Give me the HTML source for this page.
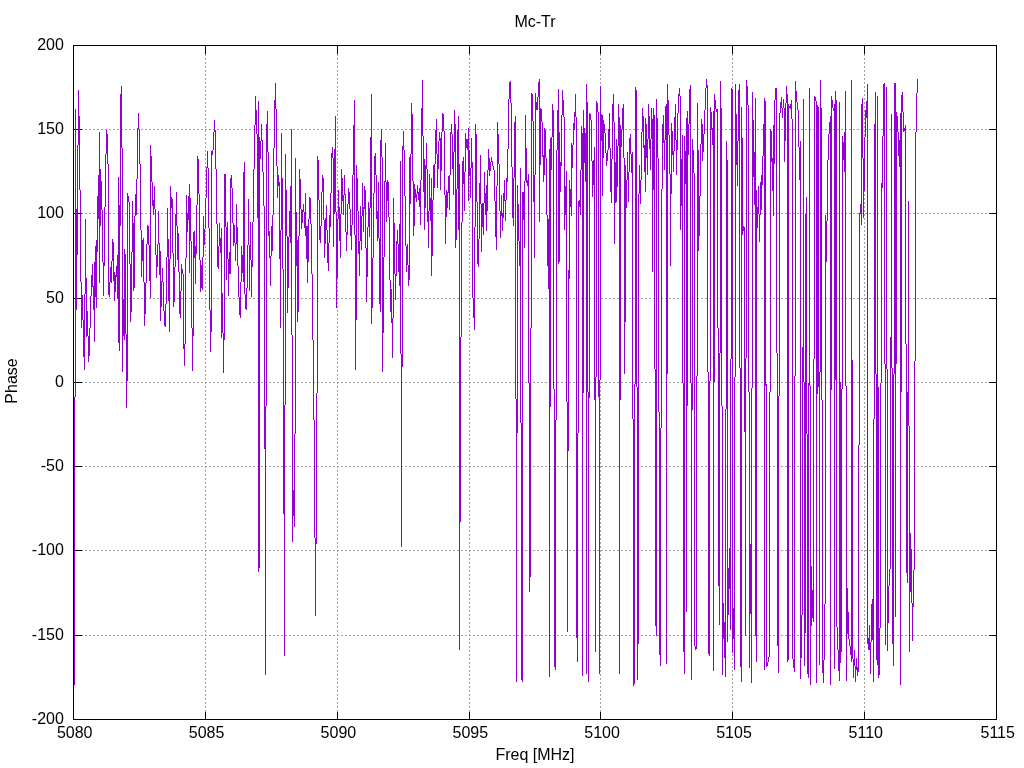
<!DOCTYPE html>
<html><head><meta charset="utf-8"><title>Mc-Tr</title>
<style>
html,body{margin:0;padding:0;background:#fff;}
body{width:1024px;height:768px;overflow:hidden;}
svg{display:block;}
svg{will-change:transform;}
text{font-family:"Liberation Sans",sans-serif;font-size:16px;fill:#000;}
</style></head><body>
<svg width="1024" height="768" viewBox="0 0 1024 768">
<rect width="1024" height="768" fill="#fff"/>
<path d="M205.5 720.0V45.5M337.5 720.0V45.5M469.5 720.0V45.5M600.5 720.0V45.5M732.5 720.0V45.5M864.5 720.0V45.5M73.0 129.5H996.5M73.0 213.5H996.5M73.0 298.5H996.5M73.0 382.5H996.5M73.0 466.5H996.5M73.0 550.5H996.5M73.0 635.5H996.5" stroke="#a0a0a0" stroke-width="1" stroke-dasharray="2 2" fill="none" shape-rendering="crispEdges"/>
<path d="M73.5 719.5v-8M73.5 45.5v8M205.5 719.5v-8M205.5 45.5v8M337.5 719.5v-8M337.5 45.5v8M469.5 719.5v-8M469.5 45.5v8M600.5 719.5v-8M600.5 45.5v8M732.5 719.5v-8M732.5 45.5v8M864.5 719.5v-8M864.5 45.5v8M996.5 719.5v-8M996.5 45.5v8M73.5 45.5h8M996.5 45.5h-8M73.5 129.5h8M996.5 129.5h-8M73.5 213.5h8M996.5 213.5h-8M73.5 298.5h8M996.5 298.5h-8M73.5 382.5h8M996.5 382.5h-8M73.5 466.5h8M996.5 466.5h-8M73.5 550.5h8M996.5 550.5h-8M73.5 635.5h8M996.5 635.5h-8M73.5 719.5h8M996.5 719.5h-8" stroke="#000" stroke-width="1" fill="none" shape-rendering="crispEdges"/>
<path d="M74.5 397V685M75.5 109V397M76.5 209V310M77.5 145V255M78.5 90V145M79.5 116V190M80.5 190V282M81.5 282V328M82.5 295V320M83.5 320V357M84.5 294V370M85.5 219V294M86.5 278V337M87.5 311V336M88.5 336V362M89.5 328V356M90.5 296V328M91.5 275V296M92.5 264V287M93.5 286V310M94.5 262V342M95.5 246V297M96.5 240V308M97.5 196V252M98.5 175V219M99.5 132V283M100.5 169V226M101.5 181V210M102.5 210V262M103.5 262V296M104.5 207V266M105.5 154V207M106.5 130V154M107.5 134V164M108.5 164V295M109.5 282V297M110.5 267V282M111.5 261V283M112.5 239V261M113.5 242V281M114.5 272V301M115.5 275V292M116.5 266V277M117.5 255V299M118.5 177V343M119.5 205V351M120.5 94V226M121.5 86V148M122.5 148V372M123.5 299V336M124.5 249V340M125.5 254V334M126.5 334V408M127.5 193V381M128.5 196V202M129.5 202V264M130.5 264V322M131.5 252V312M132.5 201V252M133.5 223V291M134.5 216V288M135.5 194V216M136.5 179V215M137.5 128V179M138.5 113V129M139.5 129V164M140.5 164V230M141.5 230V277M142.5 240V261M143.5 238V282M144.5 282V326M145.5 283V314M146.5 244V283M147.5 225V244M148.5 226V245M149.5 245V281M150.5 145V298M151.5 156V182M152.5 182V206M153.5 200V215M154.5 186V209M155.5 209V255M156.5 255V278M157.5 244V267M158.5 211V244M159.5 243V275M160.5 251V321M161.5 281V307M162.5 268V282M163.5 282V311M164.5 311V326M165.5 304V327M166.5 257V304M167.5 208V257M168.5 239V301M169.5 259V332M170.5 186V259M171.5 197V208M172.5 199V253M173.5 253V307M174.5 267V302M175.5 214V267M176.5 192V226M177.5 226V260M178.5 233V272M179.5 272V314M180.5 291V318M181.5 264V291M182.5 269V274M183.5 274V349M184.5 344V366M185.5 258V344M186.5 195V258M187.5 213V232M188.5 196V220M189.5 184V273M190.5 198V241M191.5 241V328M192.5 328V371M193.5 232V336M194.5 231V258M195.5 246V284M196.5 205V254M197.5 156V205M198.5 159V194M199.5 194V260M200.5 260V292M201.5 265V288M202.5 257V290M203.5 216V257M204.5 229V245M205.5 198V229M206.5 167V198M207.5 151V168M208.5 168V228M209.5 228V310M210.5 310V352M211.5 151V332M212.5 150V155M213.5 132V150M214.5 120V132M215.5 130V169M216.5 169V224M217.5 224V267M218.5 246V269M219.5 223V246M220.5 238V253M221.5 228V338M222.5 293V333M223.5 333V373M224.5 174V340M225.5 174V227M226.5 227V280M227.5 222V259M228.5 259V296M229.5 252V274M230.5 178V274M231.5 175V188M232.5 188V223M233.5 223V246M234.5 225V243M235.5 243V261M236.5 204V244M237.5 227V266M238.5 266V297M239.5 297V315M240.5 282V318M241.5 246V282M242.5 255V273M243.5 172V282M244.5 162V294M245.5 294V309M246.5 288V310M247.5 245V288M248.5 199V245M249.5 245V291M250.5 222V260M251.5 260V297M252.5 222V267M253.5 169V222M254.5 125V169M255.5 96V125M256.5 110V134M257.5 134V218M258.5 101V572M259.5 137V568M260.5 141V159M261.5 124V141M262.5 140V172M263.5 172V206M264.5 206V449M265.5 406V675M266.5 124V406M267.5 111V152M268.5 152V236M269.5 231V258M270.5 256V286M271.5 226V256M272.5 215V251M273.5 148V215M274.5 100V148M275.5 83V109M276.5 109V166M277.5 166V198M278.5 175V186M279.5 182V259M280.5 230V328M281.5 133V230M282.5 178V269M283.5 269V514M284.5 405V656M285.5 154V405M286.5 190V236M287.5 236V313M288.5 237V288M289.5 211V237M290.5 186V243M291.5 129V335M292.5 335V542M293.5 490V516M294.5 434V527M295.5 158V434M296.5 212V266M297.5 240V322M298.5 236V312M299.5 169V236M300.5 179V209M301.5 209V229M302.5 210V223M303.5 204V212M304.5 212V228M305.5 193V236M306.5 226V259M307.5 226V283M308.5 219V262M309.5 197V219M310.5 198V224M311.5 224V274M312.5 274V340M313.5 340V420M314.5 420V538M315.5 538V616M316.5 393V544M317.5 156V393M318.5 160V200M319.5 200V240M320.5 226V243M321.5 192V226M322.5 175V192M323.5 178V220M324.5 220V258M325.5 218V244M326.5 205V230M327.5 230V263M328.5 243V271M329.5 215V243M330.5 193V227M331.5 153V193M332.5 147V158M333.5 158V247M334.5 149V214M335.5 116V212M336.5 212V308M337.5 219V278M338.5 190V219M339.5 207V241M340.5 214V258M341.5 169V214M342.5 178V201M343.5 195V215M344.5 175V195M345.5 194V232M346.5 232V251M347.5 204V235M348.5 188V204M349.5 192V209M350.5 209V236M351.5 225V250M352.5 175V225M353.5 125V175M354.5 100V235M355.5 235V370M356.5 165V320M357.5 178V211M358.5 211V254M359.5 241V276M360.5 206V241M361.5 216V250M362.5 183V216M363.5 207V232M364.5 186V209M365.5 190V248M366.5 248V302M367.5 227V277M368.5 202V227M369.5 208V237M370.5 137V208M371.5 94V324M372.5 258V308M373.5 193V258M374.5 156V193M375.5 153V175M376.5 175V219M377.5 211V241M378.5 182V238M379.5 238V304M380.5 140V312M381.5 129V157M382.5 157V372M383.5 257V333M384.5 181V257M385.5 143V182M386.5 182V222M387.5 180V201M388.5 182V217M389.5 217V280M390.5 280V312M391.5 289V323M392.5 318V358M393.5 198V318M394.5 223V274M395.5 274V300M396.5 241V276M397.5 230V244M398.5 244V272M399.5 224V286M400.5 161V354M401.5 354V547M402.5 146V367M403.5 131V150M404.5 150V196M405.5 196V246M406.5 246V272M407.5 244V265M408.5 265V286M409.5 157V280M410.5 154V204M411.5 103V154M412.5 114V181M413.5 181V236M414.5 184V226M415.5 189V198M416.5 194V202M417.5 185V194M418.5 192V200M419.5 188V207M420.5 180V225M421.5 108V180M422.5 80V136M423.5 136V192M424.5 159V230M425.5 165V208M426.5 143V169M427.5 169V222M428.5 211V248M429.5 174V211M430.5 198V221M431.5 178V276M432.5 200V256M433.5 165V200M434.5 164V188M435.5 130V164M436.5 119V154M437.5 154V188M438.5 141V169M439.5 132V141M440.5 138V190M441.5 132V171M442.5 113V132M443.5 114V131M444.5 131V195M445.5 195V244M446.5 190V217M447.5 192V208M448.5 176V193M449.5 175V210M450.5 132V175M451.5 124V134M452.5 134V169M453.5 152V195M454.5 110V152M455.5 124V248M456.5 189V240M457.5 130V189M458.5 116V230M459.5 164V650M460.5 337V522M461.5 222V337M462.5 161V222M463.5 157V184M464.5 172V211M465.5 133V172M466.5 139V148M467.5 139V150M468.5 128V201M469.5 150V176M470.5 168V198M471.5 138V168M472.5 162V298M473.5 298V318M474.5 227V330M475.5 124V227M476.5 134V202M477.5 202V264M478.5 239V267M479.5 183V239M480.5 155V204M481.5 204V252M482.5 203V227M483.5 203V235M484.5 172V203M485.5 193V215M486.5 185V231M487.5 170V211M488.5 149V170M489.5 158V176M490.5 162V171M491.5 157V162M492.5 161V166M493.5 166V170M494.5 170V201M495.5 201V237M496.5 186V250M497.5 122V186M498.5 134V164M499.5 164V211M500.5 211V238M501.5 195V216M502.5 213V231M503.5 193V218M504.5 180V201M505.5 200V221M506.5 178V200M507.5 149V182M508.5 99V149M509.5 82V99M510.5 81V103M511.5 103V167M512.5 167V218M513.5 178V226M514.5 122V178M515.5 116V399M516.5 399V682M517.5 185V433M518.5 204V241M519.5 241V266M520.5 168V423M521.5 423V680M522.5 192V682M523.5 192V220M524.5 181V248M525.5 115V181M526.5 148V183M527.5 180V186M528.5 174V383M529.5 383V592M530.5 328V577M531.5 93V328M532.5 94V121M533.5 121V202M534.5 175V258M535.5 93V175M536.5 102V110M537.5 97V110M538.5 82V97M539.5 79V222M540.5 108V165M541.5 109V122M542.5 122V157M543.5 155V182M544.5 128V175M545.5 130V158M546.5 158V215M547.5 215V266M548.5 219V289M549.5 149V677M550.5 138V407M551.5 137V170M552.5 104V137M553.5 110V389M554.5 389V667M555.5 420V670M556.5 150V420M557.5 110V150M558.5 89V264M559.5 132V262M560.5 162V192M561.5 115V166M562.5 90V115M563.5 100V117M564.5 117V230M565.5 186V215M566.5 171V402M567.5 402V632M568.5 270V451M569.5 180V279M570.5 189V207M571.5 143V216M572.5 145V168M573.5 123V145M574.5 112V130M575.5 94V117M576.5 117V638M577.5 433V662M578.5 201V433M579.5 200V207M580.5 170V215M581.5 126V170M582.5 133V676M583.5 110V393M584.5 128V163M585.5 133V182M586.5 84V674M587.5 102V392M588.5 392V682M589.5 113V398M590.5 114V120M591.5 120V161M592.5 161V197M593.5 160V185M594.5 147V400M595.5 377V652M596.5 101V377M597.5 103V112M598.5 112V397M599.5 380V674M600.5 86V380M601.5 114V141M602.5 115V196M603.5 120V158M604.5 124V133M605.5 133V153M606.5 153V166M607.5 150V161M608.5 129V150M609.5 113V148M610.5 148V192M611.5 159V203M612.5 104V159M613.5 94V122M614.5 122V244M615.5 162V203M616.5 139V202M617.5 146V187M618.5 104V146M619.5 117V674M620.5 125V400M621.5 129V147M622.5 108V129M623.5 104V158M624.5 158V374M625.5 165V322M626.5 180V208M627.5 152V180M628.5 172V202M629.5 138V172M630.5 134V154M631.5 154V173M632.5 152V419M633.5 419V686M634.5 384V684M635.5 87V384M636.5 90V387M637.5 387V680M638.5 194V644M639.5 165V194M640.5 180V204M641.5 132V180M642.5 108V132M643.5 116V148M644.5 145V172M645.5 118V192M646.5 124V158M647.5 139V175M648.5 104V139M649.5 116V149M650.5 139V170M651.5 108V139M652.5 119V272M653.5 108V190M654.5 115V369M655.5 369V626M656.5 99V636M657.5 118V158M658.5 158V412M659.5 412V655M660.5 428V666M661.5 189V428M662.5 124V189M663.5 115V143M664.5 140V170M665.5 106V140M666.5 104V664M667.5 84V374M668.5 100V135M669.5 135V174M670.5 174V266M671.5 123V194M672.5 131V155M673.5 151V172M674.5 117V151M675.5 104V140M676.5 140V175M677.5 113V150M678.5 94V113M679.5 88V96M680.5 96V230M681.5 159V206M682.5 135V383M683.5 383V652M684.5 136V674M685.5 151V184M686.5 118V612M687.5 111V406M688.5 124V155M689.5 89V124M690.5 85V383M691.5 383V680M692.5 139V410M693.5 150V173M694.5 173V646M695.5 646V650M696.5 376V649M697.5 103V376M698.5 150V251M699.5 196V236M700.5 144V196M701.5 119V144M702.5 124V161M703.5 134V152M704.5 110V134M705.5 88V110M706.5 79V88M707.5 85V372M708.5 372V654M709.5 381V656M710.5 107V381M711.5 112V130M712.5 128V145M713.5 111V671M714.5 94V382M715.5 100V109M716.5 109V112M717.5 109V328M718.5 328V586M719.5 353V625M720.5 81V353M721.5 108V406M722.5 406V675M723.5 603V639M724.5 622V658M725.5 409V677M726.5 141V409M727.5 160V642M728.5 568V615M729.5 548V589M730.5 359V630M731.5 88V359M732.5 89V653M733.5 608V639M734.5 377V670M735.5 84V377M736.5 114V165M737.5 141V186M738.5 90V141M739.5 84V368M740.5 368V667M741.5 107V682M742.5 138V235M743.5 226V231M744.5 227V432M745.5 358V636M746.5 80V358M747.5 86V105M748.5 105V392M749.5 392V668M750.5 544V614M751.5 388V683M752.5 92V388M753.5 120V177M754.5 152V205M755.5 98V636M756.5 190V662M757.5 207V228M758.5 186V214M759.5 214V242M760.5 182V215M761.5 175V210M762.5 156V185M763.5 124V156M764.5 98V670M765.5 101V386M766.5 384V667M767.5 662V666M768.5 657V662M769.5 392V657M770.5 129V392M771.5 131V162M772.5 158V191M773.5 125V216M774.5 100V164M775.5 88V100M776.5 88V353M777.5 353V646M778.5 396V673M779.5 113V396M780.5 102V113M781.5 97V108M782.5 108V118M783.5 99V108M784.5 108V162M785.5 103V141M786.5 86V103M787.5 94V662M788.5 104V660M789.5 106V108M790.5 104V109M791.5 100V119M792.5 119V659M793.5 659V668M794.5 376V672M795.5 81V376M796.5 91V102M797.5 102V110M798.5 110V147M799.5 147V180M800.5 141V679M801.5 615V658M802.5 347V615M803.5 99V382M804.5 382V666M805.5 214V633M806.5 197V434M807.5 434V674M808.5 383V678M809.5 88V386M810.5 386V685M811.5 566V626M812.5 590V618M813.5 359V622M814.5 96V359M815.5 97V101M816.5 101V683M817.5 105V394M818.5 107V387M819.5 372V665M820.5 80V372M821.5 108V400M822.5 400V673M823.5 660V683M824.5 604V660M825.5 215V604M826.5 221V262M827.5 160V221M828.5 134V160M829.5 122V134M830.5 116V685M831.5 96V390M832.5 100V108M833.5 108V111M834.5 104V669M835.5 91V380M836.5 100V627M837.5 627V650M838.5 650V671M839.5 102V681M840.5 382V663M841.5 389V652M842.5 136V389M843.5 142V160M844.5 132V172M845.5 91V386M846.5 386V681M847.5 588V634M848.5 612V639M849.5 639V646M850.5 646V655M851.5 80V662M852.5 360V659M853.5 659V678M854.5 650V666M855.5 666V682M856.5 658V670M857.5 667V676M858.5 445V672M859.5 213V445M860.5 204V214M861.5 104V225M862.5 98V158M863.5 158V218M864.5 137V191M865.5 110V137M866.5 101V118M867.5 84V644M868.5 638V650M869.5 625V650M870.5 642V674M871.5 604V642M872.5 599V640M873.5 419V682M874.5 124V419M875.5 92V374M876.5 374V660M877.5 96V665M878.5 387V678M879.5 628V675M880.5 383V628M881.5 183V383M882.5 136V188M883.5 84V136M884.5 83V364M885.5 364V645M886.5 87V369M887.5 369V651M888.5 586V623M889.5 569V586M890.5 337V569M891.5 114V368M892.5 368V644M893.5 374V666M894.5 83V374M895.5 83V617M896.5 112V364M897.5 116V132M898.5 132V156M899.5 140V167M900.5 113V685M901.5 95V392M902.5 92V112M903.5 112V132M904.5 128V131M905.5 125V344M906.5 344V573M907.5 392V583M908.5 201V426M909.5 426V652M910.5 533V592M911.5 549V603M912.5 603V641M913.5 570V607M914.5 361V570M915.5 132V361M916.5 93V132M917.5 79V93" stroke="#9400d3" stroke-width="1" fill="none" shape-rendering="crispEdges" stroke-linejoin="miter"/>
<rect x="73.5" y="45.5" width="923.0" height="674.0" fill="none" stroke="#000" stroke-width="1" shape-rendering="crispEdges"/>
<text x="63.9" y="49.8" text-anchor="end">200</text>
<text x="63.9" y="134.1" text-anchor="end">150</text>
<text x="63.9" y="218.3" text-anchor="end">100</text>
<text x="63.9" y="302.6" text-anchor="end">50</text>
<text x="63.9" y="386.8" text-anchor="end">0</text>
<text x="63.9" y="471.1" text-anchor="end">-50</text>
<text x="63.9" y="555.3" text-anchor="end">-100</text>
<text x="63.9" y="639.5" text-anchor="end">-150</text>
<text x="63.9" y="723.8" text-anchor="end">-200</text>
<text x="74.7" y="738" text-anchor="middle">5080</text>
<text x="206.6" y="738" text-anchor="middle">5085</text>
<text x="338.4" y="738" text-anchor="middle">5090</text>
<text x="470.3" y="738" text-anchor="middle">5095</text>
<text x="602.1" y="738" text-anchor="middle">5100</text>
<text x="734.0" y="738" text-anchor="middle">5105</text>
<text x="865.8" y="738" text-anchor="middle">5110</text>
<text x="997.7" y="738" text-anchor="middle">5115</text>
<text x="535" y="26.8" text-anchor="middle">Mc-Tr</text>
<text x="535" y="759.8" text-anchor="middle">Freq [MHz]</text>
<text transform="translate(17.2,381) rotate(-90)" text-anchor="middle">Phase</text>
</svg></body></html>
